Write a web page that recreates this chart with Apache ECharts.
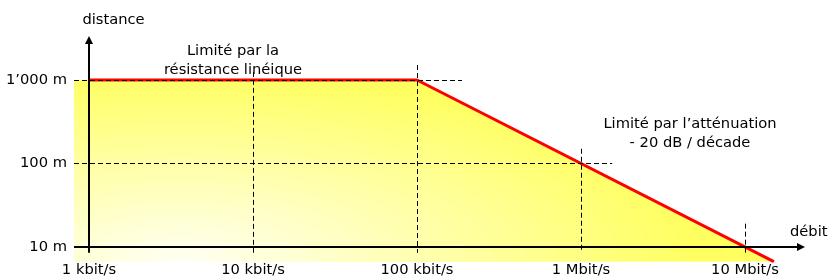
<!DOCTYPE html>
<html>
<head>
<meta charset="utf-8">
<script src="https://cdn.jsdelivr.net/npm/echarts@6/dist/echarts.min.js"></script>
<style>html,body{margin:0;padding:0;background:#fff}#c{width:830px;height:280px}</style>
</head>
<body>
<div id="c"></div>
<script>
// ---- data (rates in kbit/s, distances in m) ----
const rateTicks = [1, 10, 100, 1000, 10000];
const rateLabels = ['1 kbit/s', '10 kbit/s', '100 kbit/s', '1 Mbit/s', '10 Mbit/s'];
const distTicks = [10, 100, 1000];
const distLabels = ['10 m', '100 m', '1’000 m'];
const limitRate = [1, 100, 15000];
const limitDist = [1000, 1000, 6.67];
const fillRate = [0.81, 100, 15000];
const fillDist = [1000, 1000, 6.67];
const vGuideRate = [10, 100, 1000, 10000];
const vGuideTop = [1250, 1510, 150, 19];
const hGuideDist = [1000, 100];
const hGuideEnd = [188, 1550];
const rateMin = 0.81, rateMax = 21950;
const distMin = 6.6, distMax = 3013;
const axisBottomDist = 8.5;

const L = Math.log10;
const FONT = 'DejaVu Sans';
const FS = 14.7;

// gradient pattern for the area
const pc = document.createElement('canvas');
pc.width = 830; pc.height = 280;
(function(){
  const ctx = pc.getContext('2d');
  const cx = 180, cy = 262, rx = 520, ry = 190;
  ctx.save();
  ctx.translate(cx, cy);
  ctx.scale(rx, ry);
  const g = ctx.createRadialGradient(0, 0, 0, 0, 0, 1);
  g.addColorStop(0, '#fffff4');
  g.addColorStop(1, '#ffff60');
  ctx.fillStyle = g;
  ctx.fillRect(-cx / rx, -cy / ry, 830 / rx, 280 / ry);
  ctx.restore();
})();

const chart = echarts.init(document.getElementById('c'), null, {renderer: 'canvas'});

const dashed = {color: '#000', width: 1, type: [5, 3]};
const guideData = [];
vGuideRate.forEach((r, i) => guideData.push([{coord: [L(r), L(vGuideTop[i])]}, {coord: [L(r), L(axisBottomDist)]}]));
hGuideDist.forEach((d, i) => guideData.push([{coord: [L(rateMin), L(d)]}, {coord: [L(hGuideEnd[i]), L(d)]}]));

const font = FS + 'px "' + FONT + '"';
const option = {
  animation: false,
  textStyle: {fontFamily: FONT, fontSize: FS, color: '#000'},
  grid: {left: 74, top: 40, width: 727, height: 222, containLabel: false},
  xAxis: {
    type: 'value', min: L(rateMin), max: L(rateMax),
    axisLine: {show: false}, axisTick: {show: false}, splitLine: {show: false},
    axisLabel: {
      customValues: rateTicks.map(L), margin: 1, fontFamily: FONT, fontSize: FS, color: '#000',
      verticalAlign: 'top',
      formatter: v => rateLabels[rateTicks.map(L).findIndex(t => Math.abs(t - v) < 1e-6)] || ''
    }
  },
  yAxis: {
    type: 'value', min: L(distMin), max: L(distMax),
    axisLine: {show: false}, axisTick: {show: false}, splitLine: {show: false},
    axisLabel: {
      customValues: distTicks.map(L), margin: 7, fontFamily: FONT, fontSize: FS, color: '#000',
      formatter: v => distLabels[distTicks.map(L).findIndex(t => Math.abs(t - v) < 1e-6)] || ''
    }
  },
  series: [
    {
      type: 'line', z: 1, symbol: 'none', silent: true,
      data: fillRate.map((r, i) => [L(r), L(fillDist[i])]),
      lineStyle: {width: 0, opacity: 0},
      areaStyle: {origin: 'start', opacity: 1, color: {image: pc, repeat: 'no-repeat'}}
    },
    {
      type: 'line', z: 2, symbol: 'none', silent: true, data: [],
      markLine: {silent: true, symbol: ['none', 'none'], label: {show: false}, lineStyle: dashed,
        emphasis: {disabled: true}, data: guideData}
    },
    {
      type: 'line', z: 3, symbol: 'none', silent: true,
      data: limitRate.map((r, i) => [L(r), L(limitDist[i])]),
      lineStyle: {color: '#ff0000', width: 3}
    },
    {
      type: 'line', z: 4, symbol: 'none', silent: true, data: [],
      markLine: {silent: true, symbol: ['none', 'triangle'], symbolSize: [8, 8], label: {show: false},
        lineStyle: {color: '#000', width: 2, type: 'solid'}, emphasis: {disabled: true},
        data: [
          [{coord: [L(rateMin), L(10)]}, {coord: [L(rateMax), L(10)]}],
          [{coord: [L(1), L(axisBottomDist)]}, {coord: [L(1), L(distMax)]}]
        ]}
    }
  ],
  graphic: [
    {type: 'text', silent: true, style: {text: 'distance', x: 113.5, y: 20, align: 'center', verticalAlign: 'middle', font: font, fill: '#000'}},
    {type: 'text', silent: true, style: {text: 'débit', x: 790, y: 232, align: 'left', verticalAlign: 'middle', font: font, fill: '#000'}},
    {type: 'text', silent: true, style: {text: 'Limité par la\nrésistance linéique', x: 233, y: 60.5, align: 'center', verticalAlign: 'middle', lineHeight: 19, font: font, fill: '#000'}},
    {type: 'text', silent: true, style: {text: 'Limité par l’atténuation\n- 20 dB / décade', x: 690, y: 133.5, align: 'center', verticalAlign: 'middle', lineHeight: 19, font: font, fill: '#000'}}
  ]
};
chart.setOption(option);
</script>
</body>
</html>
